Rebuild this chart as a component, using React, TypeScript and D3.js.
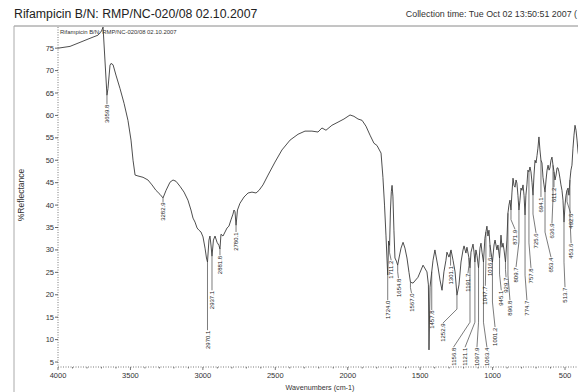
import React from "react";
import * as d3 from "d3";

const specWn = [4000,3917,3848,3779,3724,3700,3689,3662,3655,3641,3634,3620,3600,3572,3544,3517,3496,3482,3468,3448,3413,3379,3351,3324,3296,3275,3254,3227,3206,3185,3158,3130,3103,3082,3068,3054,3040,3027,3013,2999,2985,2975,2968,2958,2951,2944,2937,2927,2916,2902,2889,2882,2875,2861,2847,2833,2820,2806,2792,2785,2778,2771,2761,2744,2716,2688,2661,2633,2612,2585,2550,2502,2454,2398,2343,2295,2247,2205,2178,2150,2109,2067,2026,1984,1957,1929,1901,1874,1846,1819,1798,1770,1757,1746,1736,1724,1718,1711,1705,1699,1694,1688,1681,1674,1664,1655,1646,1632,1618,1605,1591,1577,1567,1549,1515,1480,1453,1443,1439,1432,1411,1398,1377,1363,1349,1336,1322,1315,1301,1287,1273,1259,1246,1232,1218,1204,1197,1184,1177,1163,1156,1149,1135,1128,1122,1115,1108,1097,1087,1080,1073,1063,1053,1046,1039,1032,1025,1018,1011,1001,990,983,970,963,952,942,935,928,921,911,901,894,887,880,873,866,859,852,845,838,832,825,818,811,804,797,790,783,776,770,763,756,749,742,735,728,721,714,707,700,693,687,680,673,666,659,652,645,638,631,624,617,610,604,597,590,583,576,569,562,555,549,542,535,528,521,514,507,500,493,486,479,473,466,459,452,445,438,431,424,417,410,403];
const specR = [75.0,75.4,76.3,77.2,77.9,78.8,79.7,64.5,66.0,71.2,71.6,71.3,69.0,66.0,62.7,58.9,54.5,50.0,46.7,46.5,46.2,45.6,44.5,43.3,42.4,41.6,43.3,45.1,45.6,45.3,44.2,42.9,41.1,38.9,37.1,36.2,34.9,34.4,34.0,32.9,30.4,28.2,27.3,32.2,33.1,31.1,28.6,32.2,33.1,31.7,31.0,30.2,33.5,33.1,34.0,34.9,35.3,36.7,38.0,38.9,38.5,35.5,38.9,40.4,41.8,42.7,42.9,42.7,43.3,44.5,46.7,49.6,52.3,54.5,55.8,56.5,56.5,56.3,57.2,56.7,57.8,58.5,59.2,60.1,59.8,59.2,58.9,57.6,55.6,53.8,53.3,51.6,46.2,40.0,33.3,24.4,32.0,31.0,38.9,43.0,44.4,42.0,34.4,28.2,27.5,26.6,28.2,30.4,31.7,30.4,28.2,25.0,22.8,22.6,23.9,26.6,25.1,22.2,7.7,21.7,27.7,30.0,26.2,23.3,21.0,25.1,27.7,29.5,28.4,30.0,27.7,25.1,19.9,22.2,27.3,30.0,30.9,29.3,30.6,28.2,26.0,29.5,31.3,29.5,27.3,30.0,28.8,26.0,30.4,31.5,29.5,27.3,32.6,34.0,35.3,33.1,34.4,31.1,29.5,27.3,31.1,32.2,30.0,31.1,28.2,33.3,30.6,31.5,30.0,27.3,32.2,38.2,40.0,41.1,38.9,42.9,46.0,44.4,44.0,45.6,44.9,42.2,38.9,41.1,43.8,43.3,44.5,42.2,37.8,42.2,44.5,47.8,47.4,48.5,47.4,45.1,42.2,46.7,50.0,49.4,51.1,52.7,55.2,52.3,50.0,49.4,46.2,44.5,42.9,45.6,47.8,48.9,47.8,48.3,50.0,50.7,48.9,47.4,45.6,46.7,48.3,48.3,47.4,46.0,44.5,43.3,41.1,36.2,40.0,42.2,43.3,43.8,42.2,45.6,47.8,48.9,52.7,55.6,57.8,56.7,54.5,51.8,50.5];

const peakWn = [3662,3275,2968,2937,2882,2771,1724,1711,1655,1567,1420,1246,1290,1156,1122,1097,1063,1046,1163,1018,1001,952,911,894,873,818,776,749,721,666,638,583,576,507,486,466];
const labelWn = [3662,3275,2968,2937,2882,2771,1724,1700,1650,1560,1420,1342,1290,1270,1190,1108,1039,1050,1170,1018,983,940,907,880,845,838,763,735,700,666,597,590,576,500,462,458];
const labelTop = [62.5,40.7,12.1,21.0,28.8,34.0,18.8,27.7,23.7,20.4,16.6,13.7,26.5,8.3,8.3,8.3,8.3,22.0,24.8,28.4,12.8,21.0,23.9,18.8,34.6,26.2,18.8,26.0,33.8,41.8,28.4,36.0,44.0,21.7,38.2,31.5];
const peakText = ["3659.8","3282.9","2970.1","2937.1","2881.8","2780.1","1724.0","1711.2","1654.8","1567.0","1457.8","1252.9","1301.1","1156.8","1121.1","1097.9","1063.4","1047.7","1191.7","1016.6","1001.2","945.1","929.7","896.8","871.9","809.7","774.7","757.8","725.6","694.1","653.4","636.9","611.2","513.7","492.6","453.6"];

const yTicks = [5,10,15,20,25,30,35,40,45,50,55,60,65,70,75];
const xTicks = [4000,3500,3000,2500,2000,1500,1000,500];

const title = "Rifampicin B/N: RMP/NC-020/08 02.10.2007";
const collection = "Collection time: Tue Oct 02 13:50:51 2007 (";
const innerTitle = "Rifampicin B/N: RMP/NC-020/08 02.10.2007";

const W = 578, H = 392;
const font = "'Liberation Sans', Arial, sans-serif";

function interp(wn: number): number {
  for (let i = 0; i < specWn.length - 1; i++) {
    const a = specWn[i], b = specWn[i + 1];
    if (wn <= a && wn >= b) {
      const t = a === b ? 0 : (a - wn) / (a - b);
      return specR[i] + t * (specR[i + 1] - specR[i]);
    }
  }
  return specR[specR.length - 1];
}

export default function App() {
  const x = d3.scaleLinear().domain([4000, 400]).range([58, 579.5]);
  const y = d3.scaleLinear().domain([4.0, 79.5]).range([366.5, 28]);
  const pts: [number, number][] = specWn.map((w, i) => [w, specR[i]]);
  const line = d3.line<[number, number]>().x(d => x(d[0])).y(d => y(d[1]));
  const minor = d3.range(4000, 399, -100);

  return (
    <svg width={W} height={H} style={{ position: "absolute", left: 0, top: 0, background: "#fff" }} fontFamily={font}>
      <defs>
        <clipPath id="plot">
          <rect x={58} y={27} width={W - 58} height={342} />
        </clipPath>
      </defs>
      <rect x={0} y={0} width={W} height={H} fill="#fff" />
      <text x={14} y={17.5} fontSize={12.3} fill="#222">{title}</text>
      <text x={W - 1} y={17} fontSize={8.9} fill="#333" textAnchor="end">{collection}</text>
      <line x1={14} y1={26} x2={W} y2={26} stroke="#8a8a8a" strokeWidth={1} />
      <line x1={14} y1={26} x2={14} y2={H} stroke="#aaa" strokeWidth={1} />
      <text x={60} y={33.5} fontSize={5.9} fill="#333">{innerTitle}</text>

      {/* axes */}
      <line x1={58} y1={27} x2={58} y2={367} stroke="#555" strokeWidth={0.8} strokeDasharray="1,1.5" />
      <line x1={58} y1={367} x2={W} y2={367} stroke="#555" strokeWidth={0.8} strokeDasharray="1,1.5" />
      {yTicks.map(t => (
        <g key={"y" + t}>
          <line x1={55} x2={58} y1={y(t)} y2={y(t)} stroke="#444" strokeWidth={0.8} />
          <text x={54} y={y(t) + 2.5} fontSize={7.5} textAnchor="end" fill="#333">{t}</text>
        </g>
      ))}
      {minor.map(t => (
        <line key={"m" + t} x1={x(t)} x2={x(t)} y1={367} y2={t % 500 === 0 ? 370 : 368.5} stroke="#555" strokeWidth={0.8} />
      ))}
      {xTicks.map(t => (
        <text key={"x" + t} x={x(t)} y={378} fontSize={7.5} textAnchor="middle" fill="#333">{t}</text>
      ))}
      <text x={320} y={390} fontSize={7.2} textAnchor="middle" fill="#333">Wavenumbers (cm-1)</text>
      <text transform={`translate(24,195) rotate(-90)`} fontSize={8.5} textAnchor="middle" fill="#333">%Reflectance</text>

      {/* spectrum */}
      <path d={line(pts) || ""} fill="none" stroke="#3a3a3a" strokeWidth={0.9} clipPath="url(#plot)" />

      {/* peak labels */}
      {peakWn.map((pw, i) => {
        const px = x(pw), py = y(interp(pw));
        const lx = x(labelWn[i]), ly = y(labelTop[i]);
        let d: string;
        if (Math.abs(lx - px) < 0.5) {
          d = `M${px},${py}L${px},${ly}`;
        } else {
          const bend = Math.min(25, Math.max(0, (ly - py) / 2));
          d = `M${px},${py}L${px},${ly - bend}L${lx},${ly}`;
        }
        return (
          <g key={"p" + i}>
            <path d={d} fill="none" stroke="#444" strokeWidth={0.7} />
            <text transform={`translate(${lx},${ly + 0.5}) rotate(-90)`} dy="0.35em" fontSize={6} textAnchor="end" fill="#222">{peakText[i]}</text>
          </g>
        );
      })}
    </svg>
  );
}
